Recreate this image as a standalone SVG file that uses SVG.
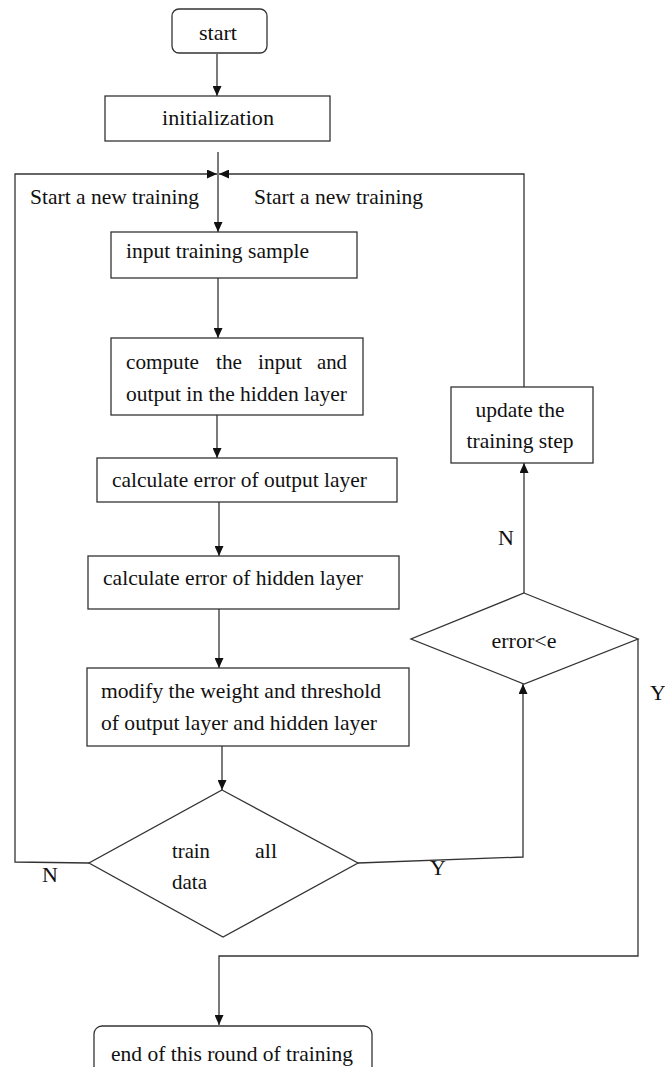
<svg xmlns="http://www.w3.org/2000/svg" width="665" height="1067" viewBox="0 0 665 1067">
<defs>
<style>
.box{fill:#fff;stroke:#333;stroke-width:1.3}
.ln{fill:none;stroke:#333;stroke-width:1.3}
.t{font-family:"Liberation Serif","Times New Roman",serif;font-size:22px;fill:#111}
.c{text-anchor:middle}
</style>
<marker id="ah" markerUnits="userSpaceOnUse" markerWidth="10" markerHeight="9" refX="10" refY="4.5" orient="auto">
<path d="M0,0 L10,4.5 L0,9 z" fill="#111"/>
</marker>
</defs>
<rect width="665" height="1067" fill="#fff"/>

<g id="connectors">
<line class="ln" x1="217" y1="54" x2="217" y2="96" marker-end="url(#ah)"/>
<line class="ln" x1="218" y1="152" x2="218" y2="232" marker-end="url(#ah)"/>
<path class="ln" d="M89,863 L15,862 L15,174 L217,174" marker-end="url(#ah)"/>
<path class="ln" d="M524,387 L524,174 L219,174" marker-end="url(#ah)"/>
<line class="ln" x1="218" y1="278" x2="218" y2="338" marker-end="url(#ah)"/>
<line class="ln" x1="217" y1="413" x2="217" y2="458" marker-end="url(#ah)"/>
<line class="ln" x1="219" y1="502" x2="219" y2="556" marker-end="url(#ah)"/>
<line class="ln" x1="219" y1="609" x2="219" y2="668" marker-end="url(#ah)"/>
<line class="ln" x1="222" y1="746" x2="222" y2="790" marker-end="url(#ah)"/>
<path class="ln" d="M358,863 L523,857 L523,684" marker-end="url(#ah)"/>
<line class="ln" x1="524" y1="593" x2="524" y2="463" marker-end="url(#ah)"/>
<path class="ln" d="M638,639 L638,956 L219,956 L219,1025" marker-end="url(#ah)"/>
<text class="t" x="30" y="204" textLength="169" lengthAdjust="spacingAndGlyphs">Start a new training</text>
<text class="t" x="254" y="204" textLength="169" lengthAdjust="spacingAndGlyphs">Start a new training</text>
<text class="t" x="42" y="882">N</text>
<text class="t" x="430" y="875">Y</text>
<text class="t" x="498" y="545">N</text>
<text class="t" x="650" y="700">Y</text>
</g>

<g id="start">
<rect class="box" x="172" y="9" width="95" height="44" rx="7"/>
<text class="t c" x="218" y="40" textLength="38" lengthAdjust="spacingAndGlyphs">start</text>
</g>

<g id="init">
<rect class="box" x="105" y="96" width="225" height="45"/>
<text class="t c" x="218" y="125" textLength="112" lengthAdjust="spacingAndGlyphs">initialization</text>
</g>

<g id="input">
<rect class="box" x="111" y="232" width="246" height="46"/>
<text class="t" x="126" y="258" textLength="183" lengthAdjust="spacingAndGlyphs">input training sample</text>
</g>

<g id="compute">
<rect class="box" x="111" y="338" width="252" height="77"/>
<text class="t" x="126" y="369" textLength="73" lengthAdjust="spacingAndGlyphs">compute</text>
<text class="t" x="216" y="369" textLength="26" lengthAdjust="spacingAndGlyphs">the</text>
<text class="t" x="258" y="369" textLength="44" lengthAdjust="spacingAndGlyphs">input</text>
<text class="t" x="317" y="369" textLength="30" lengthAdjust="spacingAndGlyphs">and</text>
<text class="t" x="126" y="401" textLength="221" lengthAdjust="spacingAndGlyphs">output in the hidden layer</text>
</g>

<g id="calc-output">
<rect class="box" x="97" y="458" width="300" height="44"/>
<text class="t" x="112" y="487" textLength="255" lengthAdjust="spacingAndGlyphs">calculate error of output layer</text>
</g>

<g id="calc-hidden">
<rect class="box" x="88" y="556" width="311" height="53"/>
<text class="t" x="103" y="585" textLength="260" lengthAdjust="spacingAndGlyphs">calculate error of hidden layer</text>
</g>

<g id="modify">
<rect class="box" x="87" y="668" width="322" height="78"/>
<text class="t" x="101" y="698" textLength="280" lengthAdjust="spacingAndGlyphs">modify the weight and threshold</text>
<text class="t" x="101" y="730" textLength="276" lengthAdjust="spacingAndGlyphs">of output layer and hidden layer</text>
</g>

<g id="train-all">
<polygon class="box" points="222,790 358,863 223,937 89,863"/>
<text class="t" x="172" y="858" textLength="38" lengthAdjust="spacingAndGlyphs">train</text>
<text class="t" x="255" y="858" textLength="22" lengthAdjust="spacingAndGlyphs">all</text>
<text class="t" x="172" y="889" textLength="35" lengthAdjust="spacingAndGlyphs">data</text>
</g>

<g id="error-check">
<polygon class="box" points="524,593 638,639 524,684 411,639"/>
<text class="t c" x="524" y="648" textLength="65" lengthAdjust="spacingAndGlyphs">error&lt;e</text>
</g>

<g id="update">
<rect class="box" x="451" y="387" width="142" height="76"/>
<text class="t c" x="520" y="417" textLength="89" lengthAdjust="spacingAndGlyphs">update the</text>
<text class="t c" x="520" y="448" textLength="107" lengthAdjust="spacingAndGlyphs">training step</text>
</g>

<g id="end">
<rect class="box" x="94" y="1026" width="278" height="50" rx="8"/>
<text class="t c" x="232" y="1061" textLength="242" lengthAdjust="spacingAndGlyphs">end of this round of training</text>
</g>
</svg>
